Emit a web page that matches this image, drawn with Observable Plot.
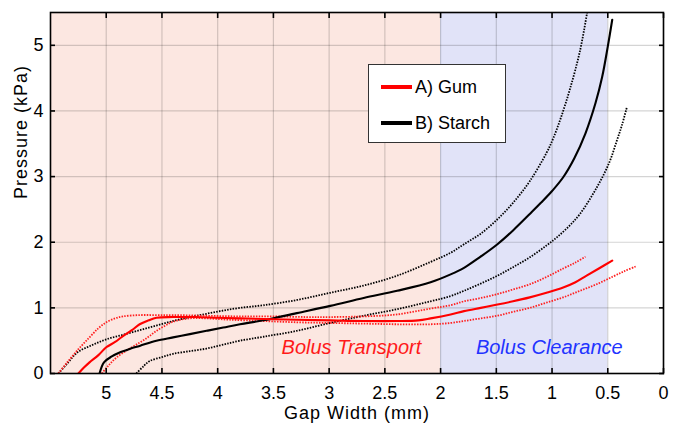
<!DOCTYPE html>
<html>
<head>
<meta charset="utf-8">
<script src="https://cdn.jsdelivr.net/npm/d3@7"></script>
<script src="https://cdn.jsdelivr.net/npm/@observablehq/plot@0.6"></script>
<style>
  html, body { margin: 0; padding: 0; background: #fff; }
  #wrap { position: relative; width: 676px; height: 426px; font-family: "Liberation Sans", Arial, Helvetica, sans-serif; }
  #legend { position: absolute; left: 368px; top: 64px; width: 136px; height: 77px; background: #fff; border: 1.6px solid #333; box-sizing: content-box; }
  .row { position: absolute; left: 12px; height: 20px; display: flex; align-items: center; font-size: 18px; color: #000; }
  .sw { width: 31px; height: 4px; margin-right: 3px; }
</style>
</head>
<body>
<div id="wrap">
  <div id="chart"></div>
  <div id="legend">
    <div class="row" style="top: 12px;"><div class="sw" style="background:#ff0000"></div>A) Gum</div>
    <div class="row" style="top: 48px;"><div class="sw" style="background:#000"></div>B) Starch</div>
  </div>
</div>
<script>
// ---- data ----
const xTicks = [5, 4.5, 4, 3.5, 3, 2.5, 2, 1.5, 1, 0.5, 0];
const yTicks = [0, 1, 2, 3, 4, 5];
const xDomain = [5.5, 0];
const yDomain = [0, 5.5];
const xTitle = "Gap Width (mm)";
const yTitle = "Pressure (kPa)";

const zoneNames = ["transport", "clearance"];
const zoneFrom = [5.5, 2];
const zoneTo = [2, 0.5];

const annotationLabels = ["Bolus Transport", "Bolus Clearance"];
const annotationX = [2.8, 1.025];
const annotationY = [0.4, 0.4];

// B) Starch – mean
const starchMeanX = [5.06, 5.02, 4.95, 4.88, 4.78, 4.70, 4.55, 4.40, 4.25, 4.10, 3.95, 3.80, 3.59, 3.29, 2.99, 2.69, 2.39, 2.09, 1.91, 1.79, 1.65, 1.49, 1.35, 1.20, 1.10, 1.00, 0.90, 0.80, 0.70, 0.61, 0.55, 0.50, 0.46];
const starchMeanY = [0.00, 0.17, 0.26, 0.32, 0.38, 0.42, 0.50, 0.55, 0.60, 0.65, 0.70, 0.75, 0.81, 0.92, 1.03, 1.15, 1.26, 1.39, 1.51, 1.61, 1.77, 1.97, 2.18, 2.43, 2.60, 2.78, 2.99, 3.28, 3.66, 4.12, 4.52, 4.98, 5.39];
// B) Starch – upper bound
const starchHiX = [5.43, 5.35, 5.26, 5.13, 5.00, 4.85, 4.70, 4.55, 4.40, 4.25, 4.10, 3.95, 3.80, 3.59, 3.29, 2.99, 2.69, 2.39, 2.09, 1.91, 1.79, 1.64, 1.49, 1.35, 1.20, 1.05, 0.99, 0.92, 0.84, 0.75, 0.685];
const starchHiY = [0.00, 0.15, 0.32, 0.43, 0.52, 0.59, 0.66, 0.73, 0.80, 0.86, 0.91, 0.96, 1.00, 1.04, 1.12, 1.23, 1.34, 1.49, 1.70, 1.84, 1.97, 2.13, 2.35, 2.60, 2.93, 3.36, 3.58, 3.90, 4.33, 4.91, 5.50];
// B) Starch – lower bound
const starchLoX = [4.73, 4.66, 4.61, 4.50, 4.40, 4.25, 4.10, 3.95, 3.80, 3.59, 3.29, 2.99, 2.69, 2.39, 2.09, 1.91, 1.79, 1.64, 1.49, 1.35, 1.20, 1.05, 0.96, 0.85, 0.75, 0.60, 0.49, 0.42, 0.37, 0.33];
const starchLoY = [0.00, 0.12, 0.19, 0.25, 0.30, 0.34, 0.38, 0.44, 0.50, 0.56, 0.65, 0.77, 0.88, 0.98, 1.10, 1.18, 1.26, 1.37, 1.49, 1.62, 1.77, 1.95, 2.07, 2.24, 2.43, 2.83, 3.20, 3.54, 3.80, 4.05];

// A) Gum – mean
const gumMeanX = [5.25, 5.20, 5.15, 5.07, 5.00, 4.92, 4.85, 4.77, 4.70, 4.62, 4.55, 4.40, 4.20, 4.00, 3.80, 3.59, 3.29, 2.99, 2.69, 2.39, 2.20, 2.09, 1.91, 1.79, 1.64, 1.49, 1.35, 1.20, 1.05, 0.90, 0.79, 0.69, 0.58, 0.46];
const gumMeanY = [0.00, 0.09, 0.17, 0.28, 0.40, 0.48, 0.57, 0.66, 0.75, 0.81, 0.85, 0.86, 0.86, 0.85, 0.84, 0.83, 0.82, 0.81, 0.80, 0.80, 0.81, 0.84, 0.90, 0.95, 1.00, 1.05, 1.10, 1.16, 1.23, 1.31, 1.39, 1.49, 1.60, 1.72];
// A) Gum – upper bound
const gumHiX = [5.43, 5.35, 5.25, 5.15, 5.07, 5.00, 4.92, 4.85, 4.70, 4.55, 4.40, 4.10, 3.80, 3.50, 3.20, 2.99, 2.69, 2.39, 2.09, 1.91, 1.79, 1.64, 1.49, 1.35, 1.20, 1.05, 0.90, 0.79, 0.70];
const gumHiY = [0.00, 0.17, 0.37, 0.55, 0.69, 0.78, 0.84, 0.87, 0.89, 0.89, 0.89, 0.88, 0.87, 0.87, 0.86, 0.86, 0.87, 0.90, 0.99, 1.04, 1.10, 1.15, 1.21, 1.28, 1.36, 1.47, 1.60, 1.69, 1.78];
// A) Gum – lower bound
const gumLoX = [5.04, 4.98, 4.91, 4.80, 4.70, 4.62, 4.55, 4.47, 4.40, 4.25, 4.10, 3.90, 3.60, 3.29, 2.99, 2.69, 2.39, 2.09, 1.91, 1.79, 1.64, 1.49, 1.35, 1.20, 1.05, 0.90, 0.75, 0.60, 0.45, 0.35, 0.25];
const gumLoY = [0.00, 0.12, 0.24, 0.37, 0.47, 0.56, 0.65, 0.73, 0.79, 0.84, 0.84, 0.82, 0.80, 0.78, 0.77, 0.76, 0.75, 0.75, 0.77, 0.80, 0.84, 0.88, 0.94, 1.00, 1.08, 1.16, 1.26, 1.36, 1.48, 1.56, 1.63];

// ---- build tables ----
const pts = (xs, ys) => xs.map((x, i) => ({x, y: ys[i]}));
const zones = zoneNames.map((name, i) => ({name, from: zoneFrom[i], to: zoneTo[i]}));
const notes = annotationLabels.map((label, i) => ({label, x: annotationX[i], y: annotationY[i]}));

// ---- styles ----
const zoneFill = {transport: "#fce7e1", clearance: "#e1e3f8"};
const noteFill = {"Bolus Transport": "#ff1a1a", "Bolus Clearance": "#2233ff"};
const RED = "#ff0000", RED_DOT = "#ff2020", BLACK = "#000";
const dotted = {strokeWidth: 1.8, strokeDasharray: "1.5,1.3", strokeLinecap: "butt", curve: "catmull-rom"};
const solid = {strokeWidth: 2.1, strokeLinejoin: "round", curve: "catmull-rom"};

const chart = Plot.plot({
  width: 676,
  height: 426,
  marginLeft: 50,
  marginRight: 13,
  marginTop: 12,
  marginBottom: 53,
  style: {fontFamily: "'Liberation Sans', Arial, Helvetica, sans-serif", fontSize: "18px", color: "#000", background: "transparent", overflow: "visible"},
  x: {domain: xDomain, ticks: xTicks},
  y: {domain: yDomain, ticks: yTicks},
  marks: [
    Plot.rect(zones, {x1: "from", x2: "to", y1: () => yDomain[0], y2: () => yDomain[1], fill: d => zoneFill[d.name]}),
    Plot.gridX(xTicks, {stroke: "#000", strokeOpacity: 0.17, strokeWidth: 1.2}),
    Plot.gridY(yTicks, {stroke: "#000", strokeOpacity: 0.17, strokeWidth: 1.2}),
    Plot.text(notes, {x: "x", y: "y", text: "label", fill: d => noteFill[d.label], fontStyle: "italic", fontSize: 20, textAnchor: "middle"}),
    Plot.line(pts(starchHiX, starchHiY), {x: "x", y: "y", stroke: BLACK, clip: true, ...dotted}),
    Plot.line(pts(starchLoX, starchLoY), {x: "x", y: "y", stroke: BLACK, clip: true, ...dotted}),
    Plot.line(pts(gumHiX, gumHiY), {x: "x", y: "y", stroke: RED_DOT, clip: true, ...dotted}),
    Plot.line(pts(gumLoX, gumLoY), {x: "x", y: "y", stroke: RED_DOT, clip: true, ...dotted}),
    Plot.line(pts(starchMeanX, starchMeanY), {x: "x", y: "y", stroke: BLACK, clip: true, ...solid}),
    Plot.line(pts(gumMeanX, gumMeanY), {x: "x", y: "y", stroke: RED, clip: true, ...solid}),
    Plot.axisX(xTicks, {anchor: "bottom", tickSize: -5, tickPadding: 18, strokeWidth: 1.6, tickFormat: d => String(d), fontSize: 18, label: null}),
    Plot.axisX(xTicks, {anchor: "top", tickSize: -5, strokeWidth: 1.6, tickFormat: () => "", label: null}),
    Plot.axisY(yTicks, {anchor: "left", tickSize: -5, tickPadding: 12, strokeWidth: 1.6, tickFormat: d => String(d), fontSize: 18, label: null}),
    Plot.axisY(yTicks, {anchor: "right", tickSize: -5, strokeWidth: 1.6, tickFormat: () => "", label: null}),
    Plot.text([xTitle], {frameAnchor: "bottom", dy: 45, fontSize: 18, lineAnchor: "bottom", fill: "#000"}),
    Plot.text([yTitle], {frameAnchor: "left", rotate: -90, dx: -29, dy: 6, fontSize: 18, fill: "#000"}),
    Plot.frame({stroke: "#000", strokeWidth: 1.6})
  ]
});
// widen the two axis titles slightly, like the reference's font
d3.select(chart).selectAll("text").filter(function () {
  const t = this.textContent;
  return t === xTitle || t === yTitle;
}).style("letter-spacing", "1px");
document.getElementById("chart").appendChild(chart);
</script>
</body>
</html>
